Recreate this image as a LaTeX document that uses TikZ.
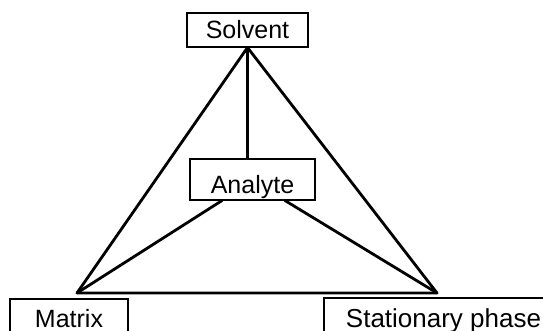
\documentclass[tikz,border=0pt]{standalone}
\usepackage{fontspec}
\setmainfont{Liberation Sans}
\begin{document}
\begin{tikzpicture}[x=1pt,y=-1pt,
  box/.style={draw,line width=1.1pt,inner sep=0pt,text height=17pt,text depth=0pt,font=\fontsize{25}{25}\selectfont},
  edge/.style={line width=2.8pt,line cap=round,line join=round}]
\useasboundingbox (0,0) rectangle (543,331);
\clip (0,0) rectangle (543,331);
\node[box,minimum width=121pt,minimum height=34pt] (solvent) at (247.5,30) {Solvent};
\node[box,minimum width=125pt,minimum height=41pt,text height=28pt] (analyte) at (252.5,179.5) {Analyte};
\node[box,minimum width=118pt,minimum height=44pt,text height=13pt] (matrix) at (69,321) {Matrix};
\node[box,minimum width=239pt,minimum height=41pt,font=\fontsize{26}{26}\selectfont] (stat) at (443.5,318.5) {Stationary phase};
\coordinate (mv) at (77,293);
\coordinate (sv) at (437,293);
\draw[edge] (mv) -- (solvent.south) -- (sv) -- cycle;
\draw[edge] (solvent.south) -- (solvent.south |- analyte.north);
\draw[edge] (mv) -- ([xshift=-30.5pt]analyte.south);
\draw[edge] (sv) -- ([xshift=32.5pt]analyte.south);
\end{tikzpicture}
\end{document}
